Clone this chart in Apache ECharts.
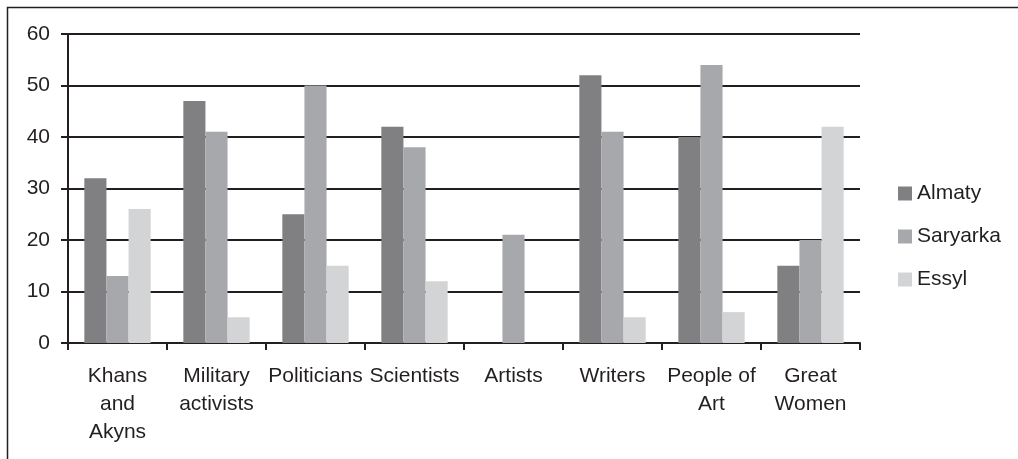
<!DOCTYPE html>
<html><head><meta charset="utf-8">
<script src="https://cdn.jsdelivr.net/npm/echarts@6/dist/echarts.min.js"></script>
<style>html,body{margin:0;padding:0;background:#fff}#c{width:1018px;height:459px}</style>
</head><body><div id="c"></div>
<script>
const categories = ["Khans\nand\nAkyns","Military\nactivists","Politicians","Scientists","Artists","Writers","People of\nArt","Great\nWomen"];
const almaty   = [32, 47, 25, 42, 0, 52, 40, 15];
const saryarka = [13, 41, 50, 38, 21, 41, 54, 20];
const essyl    = [26, 5, 15, 12, 0, 5, 6, 42];
const yTicks = [0, 10, 20, 30, 40, 50, 60];

const ink = '#231f20';
const font = 'Liberation Sans, Arial, sans-serif';
const chart = echarts.init(document.getElementById('c'), null, {renderer:'canvas'});
chart.setOption({
  animation:false,
  backgroundColor:'#fff',
  graphic:[{type:'rect', shape:{x:7.5,y:7.5,width:1030,height:470}, style:{fill:'none',stroke:ink,lineWidth:1.5}, silent:true}],
  grid:{left:68,right:158,top:34,bottom:116,containLabel:false},
  legend:{orient:'vertical', left:893, top:178, padding:5, itemWidth:14, itemHeight:14, itemGap:22,
    icon:'rect', textStyle:{fontFamily:font,fontSize:21,color:ink}, itemStyle:{borderWidth:0},
    data:['Almaty','Saryarka','Essyl']},
  xAxis:{type:'category', data:categories,
    axisLine:{lineStyle:{color:ink,width:2}},
    axisTick:{show:true,length:7,lineStyle:{color:ink,width:2},alignWithLabel:false},
    axisLabel:{interval:0,fontFamily:font,fontSize:21,color:ink,lineHeight:28,margin:19}},
  yAxis:{type:'value', min:0, max:60, interval:10,
    axisLine:{show:true,lineStyle:{color:ink,width:2}},
    axisTick:{show:true,length:7,lineStyle:{color:ink,width:2}},
    splitLine:{show:true,lineStyle:{color:ink,width:2}},
    axisLabel:{fontFamily:font,fontSize:21,color:ink,margin:18,
      formatter:v=>yTicks.includes(v)?String(v):''}},
  series:[
    {name:'Almaty',type:'bar',data:almaty,barGap:'0%',barCategoryGap:'33%',itemStyle:{color:'#808083'}},
    {name:'Saryarka',type:'bar',data:saryarka,itemStyle:{color:'#a7a8ab'}},
    {name:'Essyl',type:'bar',data:essyl,itemStyle:{color:'#d3d4d5'}}
  ]
});
</script></body></html>
